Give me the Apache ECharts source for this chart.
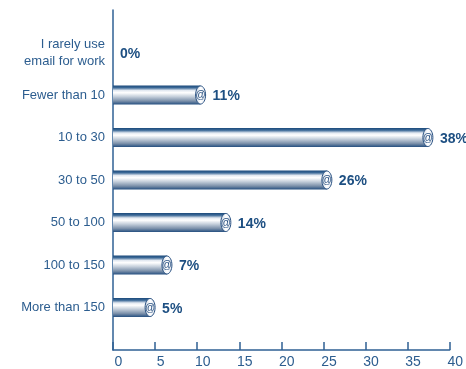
<!DOCTYPE html>
<html>
<head>
<meta charset="utf-8">
<style>
  html, body { margin: 0; padding: 0; background: #fff; }
  #chart { width: 466px; height: 369px; }
</style>
<script src="https://cdn.jsdelivr.net/npm/echarts@6/dist/echarts.min.js"></script>
</head>
<body>
<div id="chart"></div>
<script>
// Emails received per working day
const categories = [
  'I rarely use\nemail for work',
  'Fewer than 10',
  '10 to 30',
  '30 to 50',
  '50 to 100',
  '100 to 150',
  'More than 150'
];
const shares = [0, 11, 38, 26, 14, 7, 5];
const xTicks = { min: 0, max: 40, step: 5 };

const navy = '#1d4f82';
const axisBlue = '#2f6094';
const textBlue = '#2c5d8f';
const fontFamily = 'Liberation Sans, Arial, sans-serif';

const chart = echarts.init(document.getElementById('chart'), null, { renderer: 'canvas' });

// rows sit at 1..n on a padded value axis so the axis line runs past the first and last bar
const rows = shares.map((v, i) => [v, i + 1]);

const tubeFill = new echarts.graphic.LinearGradient(0, 0, 0, 1, [
  { offset: 0.0, color: '#1b4a7b' },
  { offset: 0.12, color: '#3d6a98' },
  { offset: 0.26, color: '#e3e9f1' },
  { offset: 0.38, color: '#ffffff' },
  { offset: 0.58, color: '#c6d0dc' },
  { offset: 0.82, color: '#7a8fa9' },
  { offset: 1.0, color: '#254f80' }
]);
const capFill = new echarts.graphic.LinearGradient(0, 0, 1, 0, [
  { offset: 0, color: '#c9d3df' },
  { offset: 0.5, color: '#ffffff' },
  { offset: 1, color: '#dfe5ee' }
]);

// a rolled tube: gradient body, an elliptical end with an @ on it, then the share
function renderTube(params, api) {
  const v = api.value(0);
  const row = api.value(1);
  const start = api.coord([0, row]);
  const end = api.coord([v, row]);
  const h = 19;
  const rx = 5;
  const children = [];
  if (v > 0) {
    const capX = end[0] - rx;
    children.push({
      type: 'rect',
      shape: { x: start[0], y: start[1] - h / 2, width: capX - start[0], height: h },
      style: { fill: tubeFill }
    });
    children.push({
      type: 'ellipse',
      shape: { cx: capX, cy: end[1], rx: rx, ry: h / 2 - 0.5 },
      style: { fill: capFill, stroke: '#2a5283', lineWidth: 1 }
    });
    children.push({
      type: 'text',
      style: {
        x: capX, y: end[1] + 0.5, text: '@',
        align: 'center', verticalAlign: 'middle',
        fontSize: 10, fontFamily: fontFamily,
        fill: '#2a5283'
      }
    });
  }
  children.push({
    type: 'text',
    style: {
      x: end[0] + 7, y: end[1] + 1.5, text: v + '%',
      align: 'left', verticalAlign: 'middle',
      fontSize: 14, fontWeight: 'bold',
      fontFamily: fontFamily,
      fill: navy
    }
  });
  return { type: 'group', children };
}

chart.setOption({
  animation: false,
  backgroundColor: '#ffffff',
  grid: { left: 113, right: 14, top: 10, bottom: 19, containLabel: false },
  xAxis: {
    type: 'value',
    position: 'bottom',
    min: xTicks.min,
    max: xTicks.max,
    interval: xTicks.step,
    axisLine: { show: true, onZero: false, lineStyle: { color: axisBlue, width: 1.5 } },
    axisTick: { show: true, inside: true, length: 8, lineStyle: { color: axisBlue, width: 1.5 } },
    splitLine: { show: false },
    axisLabel: {
      color: textBlue, fontSize: 14, margin: 5,
      fontFamily: fontFamily,
      padding: [0, 0, 0, 11]
    }
  },
  yAxis: {
    type: 'value',
    inverse: true,
    min: 0,
    max: categories.length + 1,
    interval: 1,
    axisLine: { show: true, onZero: false, lineStyle: { color: axisBlue, width: 1.5 } },
    axisTick: { show: false },
    splitLine: { show: false },
    axisLabel: {
      color: textBlue, fontSize: 13, margin: 8, lineHeight: 17,
      fontFamily: fontFamily,
      align: 'right',
      formatter: (v) => categories[v - 1] || ''
    }
  },
  series: [{
    type: 'custom',
    renderItem: renderTube,
    clip: false,
    data: rows,
    encode: { x: 0, y: 1 }
  }]
});
</script>
</body>
</html>
